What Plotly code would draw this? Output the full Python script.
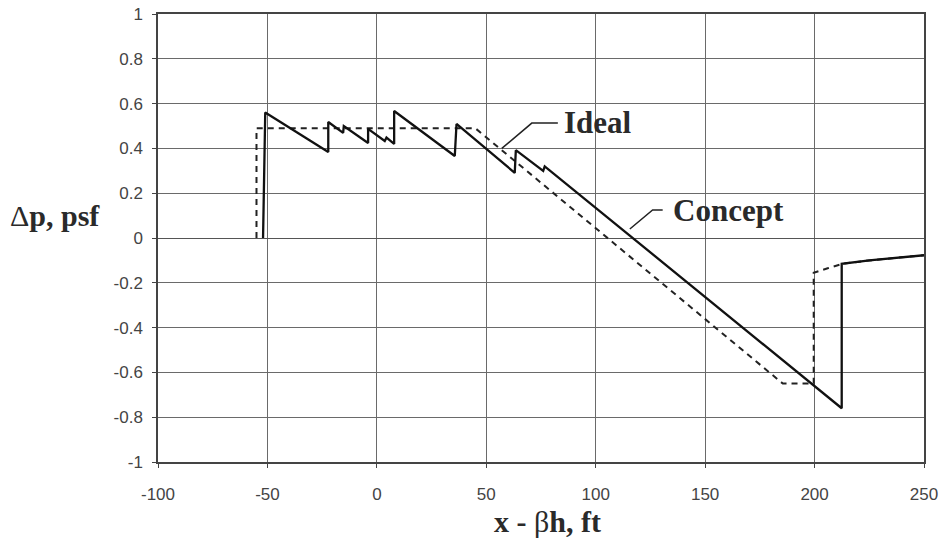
import plotly.graph_objects as go

# Concept (solid) series
concept_x = [-52, -51, -22.2, -22.2, -15.4, -15.1, -4.0, -4.0, 3.6, 4.4, 7.9, 7.9,
             35.6, 36.4, 63.0, 63.5, 76.0, 76.7, 212.4, 212.4, 225, 237, 250]
concept_y = [0, 0.56, 0.384, 0.518, 0.469, 0.50, 0.424, 0.487, 0.433, 0.448, 0.42, 0.567,
             0.366, 0.509, 0.291, 0.392, 0.30, 0.32, -0.76, -0.115, -0.10, -0.088, -0.077]

# Ideal (dashed) series
ideal_x = [-55, -55, 45, 185.5, 199.6, 199.6, 206, 213, 225, 237, 250]
ideal_y = [0, 0.49, 0.49, -0.65, -0.65, -0.155, -0.135, -0.115, -0.10, -0.088, -0.077]

x_ticks = [-100, -50, 0, 50, 100, 150, 200, 250]
x_ticktext = ["-100", "-50", "0", "50", "100", "150", "200", "250"]
y_ticks = [-1, -0.8, -0.6, -0.4, -0.2, 0, 0.2, 0.4, 0.6, 0.8, 1]
y_ticktext = ["-1", "-0.8", "-0.6", "-0.4", "-0.2", "0", "0.2", "0.4", "0.6", "0.8", "1"]

fig = go.Figure()
fig.add_trace(go.Scatter(x=ideal_x, y=ideal_y, mode="lines", name="Ideal",
                         line=dict(color="#222", width=2, dash="6px,5px")))
fig.add_trace(go.Scatter(x=concept_x, y=concept_y, mode="lines", name="Concept",
                         line=dict(color="#111", width=2.3)))

grid = "#6a6a6a"
fig.update_layout(
    width=941, height=542,
    margin=dict(l=158, r=17, t=14, b=80),
    paper_bgcolor="white", plot_bgcolor="white",
    showlegend=False,
    xaxis=dict(range=[-100, 250], tickvals=x_ticks, ticktext=x_ticktext, showgrid=True,
               gridcolor=grid, automargin=False,
               gridwidth=1, zeroline=False, showline=True, linecolor="#444", linewidth=1.5,
               mirror=True, ticks="outside", ticklen=4, tickcolor="#444",
               ticklabelstandoff=12,
               tickfont=dict(family="Liberation Sans", size=17, color="#444")),
    yaxis=dict(range=[-1, 1], tickvals=y_ticks, ticktext=y_ticktext, showgrid=True,
               gridcolor=grid, gridwidth=1, zeroline=True, zerolinecolor="#555",
               automargin=False,
               zerolinewidth=1.2, showline=True, linecolor="#444", linewidth=1.5,
               mirror=True, ticks="outside", ticklen=4, tickcolor="#444",
               ticklabelstandoff=6,
               tickfont=dict(family="Liberation Sans", size=17, color="#444")),
    shapes=[
        dict(type="path", xref="x", yref="y",
             path="M 57.1,0.40 L 70.8,0.513 L 82.7,0.513",
             line=dict(color="#222", width=1.5)),
        dict(type="path", xref="x", yref="y",
             path="M 115.6,0.04 L 126,0.125 L 130.6,0.125",
             line=dict(color="#222", width=1.5)),
    ],
    annotations=[
        dict(text="<b>Ideal</b>", x=84.5, y=0.515, xref="x", yref="y",
             xanchor="left", yanchor="middle", showarrow=False,
             font=dict(family="Liberation Serif", size=31, color="#2a2a2a")),
        dict(text="<b>Concept</b>", x=134.5, y=0.125, xref="x", yref="y",
             xanchor="left", yanchor="middle", showarrow=False,
             font=dict(family="Liberation Serif", size=31, color="#2a2a2a")),
        dict(text="Δ<b>p, psf</b>", x=-0.135, y=0.1, xref="paper", yref="y",
             xanchor="center", yanchor="middle", showarrow=False,
             font=dict(family="Liberation Serif", size=30, color="#2a2a2a")),
        dict(text="<b>x - </b>β<b>h, ft</b>", x=78, y=-0.133, xref="x", yref="paper",
             xanchor="center", yanchor="middle", showarrow=False,
             font=dict(family="Liberation Serif", size=30, color="#2a2a2a")),
    ],
)

fig.write_html("out.html", config={"displayModeBar": False},
               post_script="document.body.style.margin='0';document.body.style.padding='0';")
